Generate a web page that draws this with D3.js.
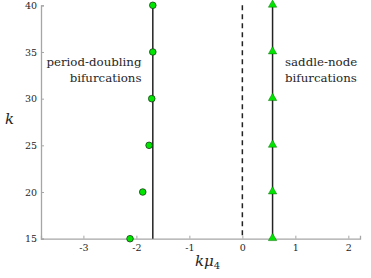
<!DOCTYPE html>
<html><head><meta charset="utf-8">
<script src="https://cdn.jsdelivr.net/npm/d3@7"></script>
<style>body{margin:0;background:#fff}svg{display:block}</style>
</head><body>
<script>
const kValues = [15, 20, 25, 30, 35, 40];
const pdX = [-2.12, -1.88, -1.76, -1.71, -1.69, -1.69];
const snX = [0.57, 0.57, 0.57, 0.57, 0.57, 0.57];
const pdLineX = -1.69;
const snLineX = 0.57;
const dashX = 0;
const xTicks = [-3, -2, -1, 0, 1, 2];
const yTicks = [15, 20, 25, 30, 35, 40];
const xDomain = [-3.8, 2.22];
const yDomain = [15, 40];

const FONT = "'DejaVu Serif', serif";
const W = 371, H = 278;
const svg = d3.select("body").append("svg").attr("width", W).attr("height", H);
const x = d3.scaleLinear().domain(xDomain).range([41, 360]);
const y = d3.scaleLinear().domain(yDomain).range([238.7, 5.3]);

const axisCol = "#a6a6a6", textCol = "#262626";

const xa = svg.append("g").attr("transform", `translate(0,${y(15)})`)
  .call(d3.axisBottom(x).tickValues(xTicks).tickSize(-3).tickPadding(6).tickFormat(d => d < 0 ? "-" + Math.abs(d) : d));
const ya = svg.append("g").attr("transform", `translate(${x(xDomain[0])},0)`)
  .call(d3.axisLeft(y).tickValues(yTicks).tickSize(-3).tickPadding(4));
[xa, ya].forEach(g => {
  g.attr("font-family", FONT).attr("font-size", 9.5);
  g.select(".domain").attr("stroke", axisCol).attr("stroke-width", 1.3);
  g.selectAll(".tick line").attr("stroke", axisCol);
  g.selectAll(".tick text").attr("fill", textCol);
});

svg.append("line").attr("x1", x(dashX)).attr("x2", x(dashX)).attr("y1", y(40)).attr("y2", y(15))
  .attr("stroke", "#222").attr("stroke-width", 1.5).attr("stroke-dasharray", "5,4");
svg.append("line").attr("x1", x(pdLineX)).attr("x2", x(pdLineX)).attr("y1", y(40)).attr("y2", y(15))
  .attr("stroke", "#222").attr("stroke-width", 1.5);
svg.append("line").attr("x1", x(snLineX)).attr("x2", x(snLineX)).attr("y1", y(40)).attr("y2", y(15))
  .attr("stroke", "#222").attr("stroke-width", 1.5);

svg.selectAll("circle.pd").data(kValues).join("circle")
  .attr("cx", (d, i) => x(pdX[i])).attr("cy", d => y(d)).attr("r", 3.3)
  .attr("fill", "#00e600").attr("stroke", "#1a3a1a").attr("stroke-width", 0.8);
const tri = d3.symbol().type(d3.symbolTriangle).size(30);
svg.selectAll("path.sn").data(kValues).join("path")
  .attr("d", tri).attr("transform", (d, i) => `translate(${x(snX[i])},${y(d) - 0.5})`)
  .attr("fill", "#00e600").attr("stroke", "#0a6a0a").attr("stroke-width", 0.5);

const ann = svg.append("g").attr("fill", "#262626").style("font-family", FONT).style("font-size", "11.8px");
ann.append("text").attr("x", 141.5).attr("y", 65.5).attr("text-anchor", "end").text("period-doubling");
ann.append("text").attr("x", 141.5).attr("y", 81.5).attr("text-anchor", "end").text("bifurcations");
ann.append("text").attr("x", 285).attr("y", 65.5).text("saddle-node");
ann.append("text").attr("x", 285).attr("y", 81.5).text("bifurcations");

svg.append("text").attr("x", 5).attr("y", 124).style("font-family", FONT).style("font-size", "15px").style("font-style", "italic").attr("fill", textCol).text("k");
const xl = svg.append("text").attr("x", 195).attr("y", 266).style("font-family", FONT).style("font-size", "15px").style("font-style", "italic").attr("fill", textCol);
xl.append("tspan").text("kμ");
xl.append("tspan").style("font-size", "10px").style("font-style", "normal").attr("dy", 3).text("4");
</script>
</body></html>
